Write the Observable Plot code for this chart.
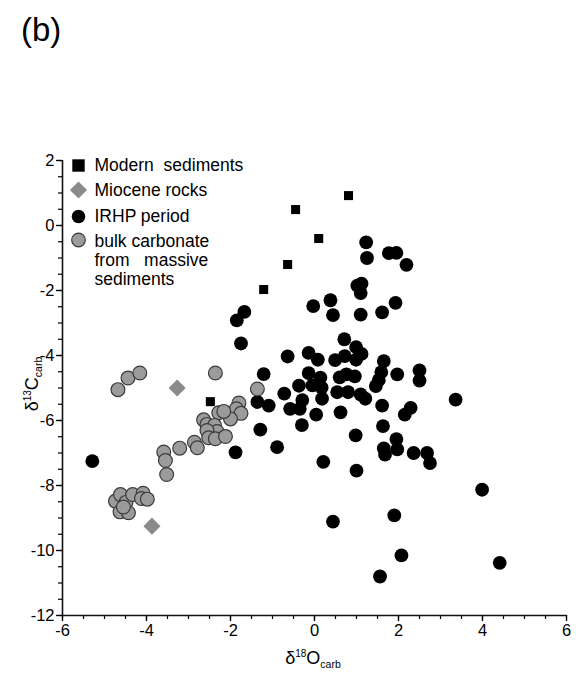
<!DOCTYPE html>
<html>
<head>
<meta charset="utf-8">
<script src="https://cdn.jsdelivr.net/npm/d3@7"></script>
<script src="https://cdn.jsdelivr.net/npm/@observablehq/plot@0.6"></script>
<style>
  html, body { margin: 0; padding: 0; background: #fff; }
  #wrap { position: relative; width: 586px; height: 680px; }
  #tag { position: absolute; left: 21px; top: 11px; font: 33px 'Liberation Sans', Arial, sans-serif; color: #000; }
</style>
</head>
<body>
<div id="wrap"><div id="tag">(b)</div></div>
<script>
// ---- data (δ18O, δ13C) ----
const modern = [[0.81, 0.92], [-0.45, 0.49], [0.1, -0.4], [-0.64, -1.2], [-1.21, -1.97], [-2.48, -5.42]];
const miocene = [[-3.27, -5.0], [-3.87, -9.25]];
const irhp = [
  [-5.29, -7.25], [1.23, -0.52], [1.25, -1.0], [1.77, -0.85], [1.95, -0.84], [2.19, -1.21],
  [1.02, -1.85], [1.12, -1.79], [1.1, -2.08], [0.38, -2.3], [-0.03, -2.48], [0.44, -2.76],
  [1.1, -2.74], [1.61, -2.67], [1.93, -2.38], [-1.67, -2.66], [-1.85, -2.92], [-1.75, -3.63],
  [0.71, -3.5], [0.99, -3.74], [1.12, -3.95], [-0.64, -4.03], [-0.14, -3.92], [0.08, -4.13],
  [0.49, -4.14], [0.72, -4.02], [0.99, -4.13], [1.65, -4.17], [-1.21, -4.57], [-0.14, -4.54],
  [0.14, -4.68], [0.6, -4.67], [0.76, -4.58], [0.96, -4.64], [1.59, -4.51], [1.53, -4.76],
  [1.46, -4.94], [1.97, -4.58], [2.5, -4.46], [2.5, -4.77], [-0.37, -4.93], [-0.05, -4.92],
  [0.17, -4.99], [0.54, -5.13], [0.8, -5.13], [1.1, -5.2], [1.21, -5.33], [-0.72, -5.17],
  [-1.36, -5.43], [-1.09, -5.54], [-0.58, -5.64], [-0.29, -5.37], [-0.35, -5.64], [0.18, -5.33],
  [0.62, -5.75], [1.61, -5.54], [2.29, -5.61], [2.15, -5.82], [3.36, -5.36], [0.04, -5.82],
  [-0.3, -6.14], [-1.29, -6.28], [1.63, -6.17], [0.98, -6.46], [-0.89, -6.82], [1.95, -6.57],
  [1.65, -6.86], [1.97, -6.89], [1.68, -7.05], [2.36, -7.0], [2.68, -7.0], [2.75, -7.31],
  [0.21, -7.27], [1.0, -7.54], [3.99, -8.13], [0.44, -9.11], [1.9, -8.92], [2.07, -10.15],
  [4.41, -10.38], [1.56, -10.8], [-1.88, -6.98]
];
const bulk = [
  [-4.68, -5.05], [-4.44, -4.69], [-4.16, -4.54],
  [-2.36, -4.54], [-1.36, -5.03], [-1.8, -5.46], [-1.86, -5.64], [-1.75, -5.78], [-2.0, -5.95],
  [-2.28, -5.76], [-2.16, -5.72], [-2.64, -5.98], [-2.56, -6.12], [-2.38, -6.15], [-2.32, -6.34],
  [-2.56, -6.31], [-2.52, -6.53], [-2.36, -6.56], [-2.12, -6.49], [-2.86, -6.67], [-2.79, -6.84],
  [-3.21, -6.85], [-3.59, -6.97], [-3.55, -7.23], [-3.52, -7.66],
  [-4.74, -8.48], [-4.62, -8.28], [-4.49, -8.52], [-4.33, -8.28], [-4.08, -8.24], [-4.12, -8.4],
  [-3.98, -8.42], [-4.63, -8.81], [-4.43, -8.84], [-4.55, -8.66]
];
const legendLabels = ["Modern  sediments", "Miocene rocks", "IRHP period", "bulk carbonate\nfrom   massive\nsediments"];
const xMajor = [-6, -4, -2, 0, 2, 4, 6];
const yMajor = [-12, -10, -8, -6, -4, -2, 0, 2];
const xMinor = d3.range(-6, 6.001, 0.5);
const yMinor = d3.range(-12, 2.001, 0.5);

const font = "'Liberation Sans', Arial, Helvetica, sans-serif";
const X = d => d[0], Y = d => d[1];

const legendRows = [
  {sym: {symbol: "square", r: 7, fill: "#000"}, dy: 5, tdy: 4.5},
  {sym: {symbol: "diamond2", r: 7.7, fill: "#8a8a8a"}, dy: 29.5, tdy: 29.5},
  {sym: {symbol: "circle", r: 6.8, fill: "#000"}, dy: 56, tdy: 55},
  {sym: {symbol: "circle", r: 6.8, fill: "#9b9b9b", stroke: "#3a3a3a", strokeWidth: 1.2}, dy: 79.5, tdy: 99.5}
];

const legendMarks = legendRows.flatMap((row, i) => [
  Plot.dot([legendLabels[i]], {frameAnchor: "top-left", dx: 16, dy: row.dy, ...row.sym}),
  Plot.text([legendLabels[i]], {frameAnchor: "top-left", dx: 32, dy: row.tdy, text: d => d,
    textAnchor: "start", lineAnchor: "middle", fontSize: 17.5, lineHeight: 1.09, fill: "#000"})
]);

const chart = Plot.plot({
  width: 586, height: 680,
  marginLeft: 62, marginRight: 20, marginTop: 160, marginBottom: 65,
  x: {domain: [-6, 6], label: null},
  y: {domain: [-12, 2], label: null},
  style: {fontFamily: font, fontSize: "16px", color: "#000", background: "transparent"},
  marks: [
    Plot.axisX(xMinor, {tickSize: 4, tickFormat: () => "", label: null, strokeWidth: 1.2}),
    Plot.axisY(yMinor, {tickSize: 4, tickFormat: () => "", label: null, strokeWidth: 1.2}),
    Plot.axisX(xMajor, {tickSize: 6, tickPadding: 3, tickFormat: d => String(d), label: null, fontSize: 16.5, strokeWidth: 1.3}),
    Plot.axisY(yMajor, {tickSize: 6, tickPadding: 2, tickFormat: d => String(d), label: null, fontSize: 16.5, strokeWidth: 1.3}),
    Plot.ruleX([-6], {strokeWidth: 1.6, stroke: "#111"}),
    Plot.ruleY([-12], {strokeWidth: 1.6, stroke: "#111"}),
    Plot.dot(irhp, {x: X, y: Y, r: 6.9, fill: "#000"}),
    Plot.dot(bulk, {x: X, y: Y, r: 6.9, fill: "#9b9b9b", stroke: "#3a3a3a", strokeWidth: 1.2}),
    Plot.dot(miocene, {x: X, y: Y, symbol: "diamond2", r: 7.7, fill: "#8a8a8a"}),
    Plot.dot(modern, {x: X, y: Y, symbol: "square", r: 5.1, fill: "#000"}),
    ...legendMarks
  ]
});

// axis titles with super/subscripts
const svg = d3.select(chart);
const xt = svg.append("text").attr("x", 313).attr("y", 664).attr("text-anchor", "middle")
  .attr("font-family", font).attr("font-size", 18).attr("fill", "#000");
xt.append("tspan").text("δ");
xt.append("tspan").attr("dy", -7).attr("font-size", 10).text("18");
xt.append("tspan").attr("dy", 7).text("O");
xt.append("tspan").attr("dy", 4).attr("font-size", 10.5).text("carb");

const yt = svg.append("text").attr("transform", "translate(38,384) rotate(-90)").attr("text-anchor", "middle")
  .attr("font-family", font).attr("font-size", 18).attr("fill", "#000");
yt.append("tspan").text("δ");
yt.append("tspan").attr("dy", -7).attr("font-size", 10).text("13");
yt.append("tspan").attr("dy", 7).text("C");
yt.append("tspan").attr("dy", 4).attr("font-size", 10.5).text("carb");

document.getElementById("wrap").appendChild(chart);
chart.style.position = "absolute";
chart.style.left = "0";
chart.style.top = "0";
document.getElementById("tag").style.zIndex = 2;
</script>
</body>
</html>
